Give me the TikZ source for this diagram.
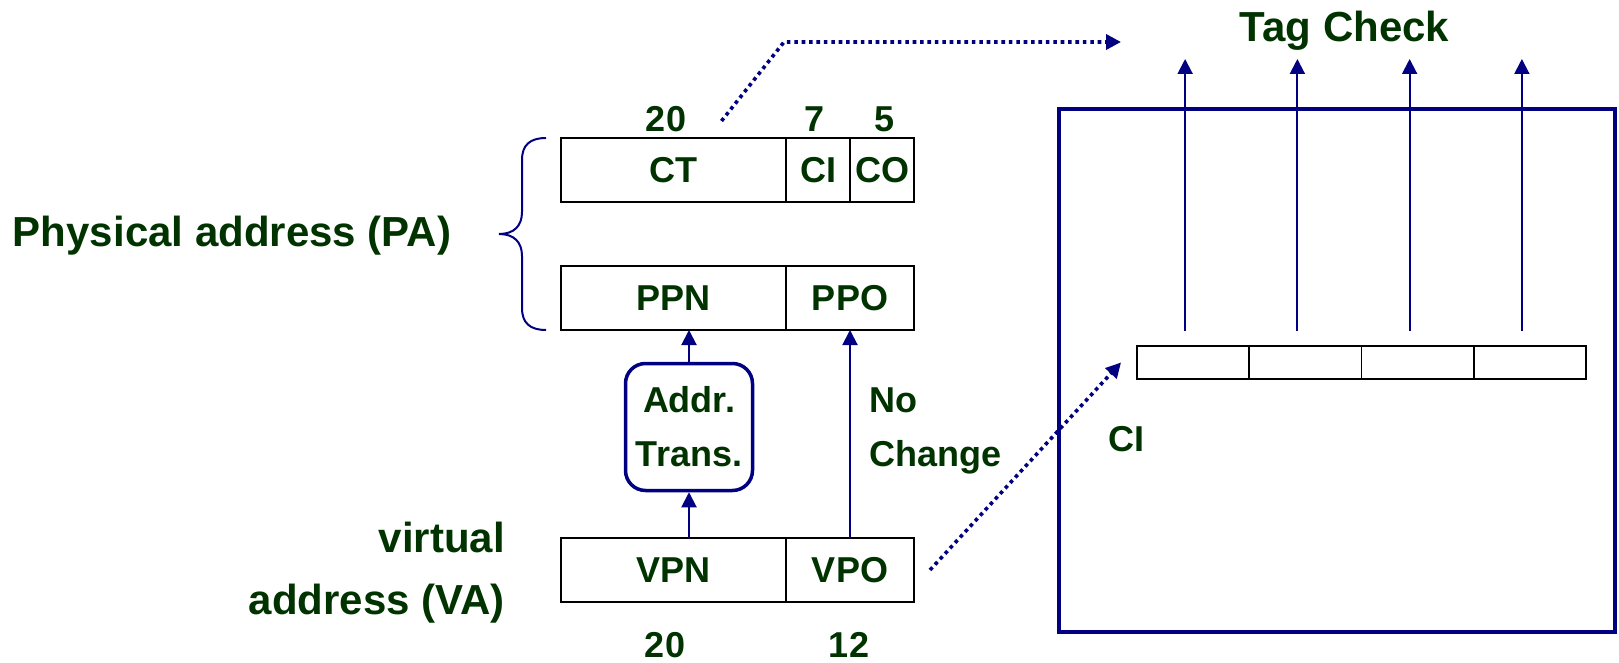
\documentclass[tikz,border=0pt]{standalone}
\usepackage{fontspec}
\setmainfont{Liberation Sans}
\usepackage{tikz}
\usetikzlibrary{arrows.meta,positioning,calc}
\definecolor{navy}{RGB}{0,0,128}
\definecolor{leaf}{RGB}{0,51,0}
\newcommand\biglbl{\fontsize{42}{62}\selectfont\bfseries}
\newcommand\smlbl{\fontsize{36}{54}\selectfont\bfseries}

\begin{document}
\begin{tikzpicture}[x=1pt,y=-1pt,>={Triangle[length=15pt,width=15pt]},
 fld/.style={draw,line width=1.8pt,minimum height=64pt,inner sep=0pt,outer sep=0pt,font=\smlbl,text=leaf},
 lbl/.style={inner sep=0pt,font=\smlbl,text=leaf},
 big/.style={inner sep=0pt,font=\biglbl,text=leaf},
 xlat/.style={lbl,draw=navy,line width=3.5pt,rounded corners=20pt,minimum width=127pt,minimum height=127pt,align=center},
 slot/.style={draw,line width=1.8pt,minimum width=112.25pt,minimum height=33pt,inner sep=0pt,outer sep=0pt},
 sig/.style={->,draw=navy,line width=2pt},
 hop/.style={->,draw=navy,line width=3.6pt,dash pattern=on 3.6pt off 3.8pt}]
 \useasboundingbox (0,0) rectangle (1619,663);
 % address fields
 \node[fld,minimum width=225pt] (ct) at (673.5,170) {CT};
 \node[fld,minimum width=64pt,right=0pt of ct] (ci) {CI};
 \node[fld,minimum width=64pt,right=0pt of ci] (co) {CO};
 \node[fld,minimum width=225pt] (ppn) at (673.5,298) {PPN};
 \node[fld,minimum width=128pt,right=0pt of ppn] (ppo) {PPO};
 \node[fld,minimum width=225pt] (vpn) at (673.5,570) {VPN};
 \node[fld,minimum width=128pt,right=0pt of vpn] (vpo) {VPO};
 \node[lbl] (nct) at (666,119.5) {20};
 \node[lbl] (nci) at (814,119.5) {7};
 \node[lbl] (nco) at (884,119.5) {5};
 \node[lbl] (nvpn) at (665,645) {20};
 \node[lbl] (nvpo) at (849,645) {12};
 \draw[navy,line width=2pt] (546,138) .. controls (530,138) and (522,145) .. (522,160) -- (522,212) .. controls (522,226) and (514,234) .. (499,234) .. controls (514,234) and (522,242) .. (522,256) -- (522,308) .. controls (522,323) and (530,330) .. (546,330);
 \node[big] (pa) at (232,236) {Physical address (PA)};
 \node[big,align=right,anchor=east] (va) at (505,573) {virtual\\address (VA)};
 % translation
 \node[xlat] (tr) at (689,427) {Addr.\\Trans.};
 \draw[sig] (vpn.north -| tr.south) -- (tr.south);
 \draw[sig] (tr.north) -- (tr.north |- ppn.south);
 \draw[sig] (vpo.north) -- (ppo.south);
 \node[lbl,align=left,anchor=west] (nochg) at (869,431) {No\\Change};
 % cache
 \node[draw=navy,line width=4pt,minimum width=556pt,minimum height=523pt] (cache) at (1337,370.5) {};
 \foreach \i in {1,...,4} \node[slot] (s\i) at ({1137+112.25*(\i-0.5)},362.5) {};
 \foreach \i in {1,...,4} \draw[sig] ([shift={(-8,-15)}]s\i.north) -- ++(0,-272);
 \node[big] (tag) at (1344.5,30.5) {Tag Check};
 \node[lbl] (cilbl) at (1126.5,439.5) {CI};
 \coordinate (bend) at (784,42);
 \coordinate (tagin) at (1121,42);
 \draw[hop] ([shift={(48,-17)}]ct.north) -- (bend) -- (tagin);
 \draw[hop] ([xshift=16pt]vpo.east) -- ([xshift=-16pt]s1.west);
\end{tikzpicture}
\end{document}
